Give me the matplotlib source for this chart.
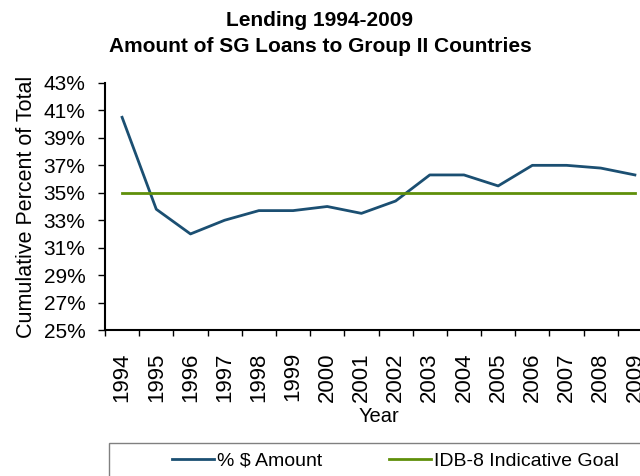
import numpy as np
import matplotlib
matplotlib.use("Agg")
from matplotlib import pyplot as plt
from matplotlib.patches import Rectangle
from matplotlib.ticker import FixedLocator

plt.rcParams["font.family"] = ["Liberation Sans", "DejaVu Sans"]

years = [str(y) for y in range(1994, 2010)]
pct_amount = [40.5, 33.8, 32.0, 33.0, 33.7, 33.7, 34.0, 33.5, 34.4,
              36.3, 36.3, 35.5, 37.0, 37.0, 36.8, 36.3]
goal = [35.0] * len(years)
y_ticks = list(range(25, 44, 2))

blue = "#1B4F72"
green = "#5F8F0A"

W, H = 640, 476
fig = plt.figure(figsize=(W / 100, H / 100), dpi=100)
ax = fig.add_axes([105 / W, 1 - 330 / H, (652 - 105) / W, (330 - 83) / H])

x = np.arange(len(years))
ax.plot(x, pct_amount, color=blue, linewidth=2, label="% $ Amount")
ax.plot(x, goal, color=green, linewidth=2, label="IDB-8 Indicative Goal")

ax.set_xlim(-0.5, len(years) - 0.5)
ax.set_ylim(25, 43)
ax.set_yticks(y_ticks)
ax.set_yticklabels([f"{v}%" for v in y_ticks])
ax.set_xticks(x)
ax.set_xticklabels(years, rotation=90)
ax.xaxis.set_minor_locator(FixedLocator(np.arange(len(years) + 1) - 0.5))
ax.tick_params(axis="x", which="major", length=0, labelsize=16, pad=16)
ax.tick_params(axis="x", which="minor", length=4, width=1)
ax.tick_params(axis="y", labelsize=15, length=5, width=1, pad=9,
               direction="out")

for side in ["top", "right"]:
  ax.spines[side].set_visible(False)
ax.spines["left"].set_linewidth(1.5)
ax.spines["bottom"].set_linewidth(1.5)

ax.set_xlabel("Year", fontsize=14.5, labelpad=4)
ax.set_ylabel("Cumulative Percent of Total", fontsize=15.5, labelpad=5)

fig.text(0.5, 1 - 20 / H, "Lending 1994-2009", ha="center", va="center",
         fontsize=15, fontweight="bold")
fig.text(0.5, 1 - 46 / H, "Amount of SG Loans to Group II Countries",
         ha="center", va="center", fontsize=15, fontweight="bold")

# legend box runs off the right and bottom edges like the original
fig.patches.append(Rectangle((109 / W, -0.1), 1.0, (1 - 443 / H) + 0.1,
                             transform=fig.transFigure, fill=False,
                             edgecolor="#808080", linewidth=1))
fig.legend(loc="center left", bbox_to_anchor=(172 / W, 1 - 461 / H), ncol=2,
           frameon=False, fontsize=14, handlelength=2.15,
           handletextpad=0.15, columnspacing=3.45, borderpad=0,
           borderaxespad=0)

fig.savefig("out.png", dpi=100)
